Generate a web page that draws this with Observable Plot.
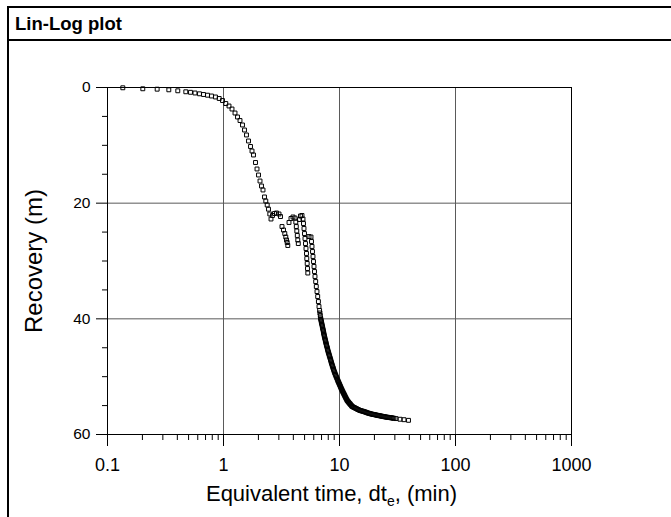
<!DOCTYPE html>
<html><head><meta charset="utf-8">
<script src="https://cdn.jsdelivr.net/npm/d3@7"></script>
<script src="https://cdn.jsdelivr.net/npm/@observablehq/plot@0.6"></script>
<style>
body{margin:0;background:#fff;font-family:"Liberation Sans",Arial,sans-serif;}
#hdr{margin:6px 0 0 7px;border-top:2px solid #000;border-left:2px solid #000;border-bottom:2px solid #000;height:31px;line-height:31px;padding-left:6px;font-weight:bold;font-size:18.5px;color:#000;}
#chart{margin-left:7px;border-left:2px solid #000;height:476px;}
#chart svg{display:block}
</style></head><body>
<div id="hdr">Lin-Log plot</div>
<div id="chart"></div>
<script>
// Equivalent time (min)
const time = [
0.1355,0.2015,0.268,0.3377,0.4036,0.4732,0.5194,0.5679,0.6210,0.6725,
0.7280,0.7882,0.8533,0.9182,0.9803,1.0467,1.1153,1.1838,1.2566,1.3205,
1.3876,1.4582,1.5171,1.5787,1.6427,1.7095,1.7610,1.8140,1.8876,1.9446,
2.0034,2.0640,2.1262,2.1904,2.2565,2.3156,2.3806,2.4429,2.5067,2.5673,
2.6449,2.7522,2.8637,3.0094,3.0999,
3.1933,3.2897,3.3755,3.4436,3.4918,3.5405,3.5832,
3.6697,3.8178,3.9719,4.1333,4.2000,4.2418,4.2840,4.3266,4.3697,4.4133,
4.5200,4.6106,4.7497,4.8447,4.8935,4.9422,4.9914,5.0411,5.0913,5.1420,5.1932,5.2244,5.2663,5.2978,5.3296,
5.4589,5.6797,5.7363,5.7934,5.8510,5.9093,5.9682,6.0276,6.0876,6.1482,6.2340,6.3096,6.3978,6.4873,6.5781,6.6574,
6.74,6.78,6.83,6.87,6.905,6.94,6.975,7.01,7.05,7.09,7.125,7.16,7.20,7.24,7.275,7.31,7.345,7.38,7.425,7.47,
7.515,7.56,7.605,7.65,7.695,7.74,7.795,7.85,7.895,7.94,8.00,8.06,8.115,8.17,8.235,8.30,8.36,8.42,8.475,8.53,
8.60,8.67,8.74,8.81,8.88,8.95,9.03,9.11,9.20,9.29,9.385,9.48,9.575,9.67,9.755,9.84,9.93,10.02,10.10,10.18,
10.27,10.36,10.455,10.55,10.655,10.76,10.87,10.98,11.085,11.19,11.305,11.42,11.535,11.65,11.79,11.93,12.085,12.24,12.39,12.54,
12.71,12.88,13.11,13.34,13.61,13.88,14.16,14.44,14.73,15.02,15.32,15.63,15.95,16.27,16.59,16.92,17.26,17.60,17.96,18.32,
18.69,19.06,19.44,19.83,20.23,20.64,21.06,21.48,21.91,22.34,22.79,23.25,23.72,24.19,24.68,25.17,25.68,26.19,26.72,27.25,
27.80,28.35,28.92,29.50,30.69,33.23,35.98,39.34
];
// Recovery (m)
const recovery = [
0.05,0.22,0.29,0.40,0.57,0.74,0.83,0.95,1.09,1.21,
1.33,1.47,1.64,1.90,2.25,2.77,3.20,3.72,4.41,5.10,
5.71,6.48,7.35,8.21,9.25,10.20,10.98,11.67,12.97,14.09,
15.13,16.17,17.03,17.72,18.93,19.63,20.32,21.04,21.87,22.74,
22.13,21.79,21.70,21.87,22.31,
24.04,24.64,25.25,25.85,26.37,26.80,27.32,
23.34,22.65,22.39,22.57,23.26,24.04,24.81,25.59,26.37,26.98,
22.83,22.22,22.13,22.74,23.52,24.38,25.25,26.11,26.98,27.84,28.70,29.57,30.43,31.30,32.08,
25.77,25.85,26.63,27.49,28.36,29.22,30.09,30.95,31.82,32.68,33.55,34.41,35.28,36.14,37.01,37.87,
38.56,38.99,39.43,39.86,40.08,40.29,40.50,40.72,40.94,41.16,41.38,41.59,41.81,42.02,42.24,42.45,42.67,42.88,43.10,43.32,
43.54,43.75,43.97,44.18,44.40,44.61,44.83,45.05,45.27,45.48,45.70,45.91,46.13,46.34,46.56,46.78,47.00,47.21,47.43,47.64,
47.86,48.07,48.29,48.50,48.72,48.94,49.16,49.37,49.59,49.80,50.02,50.23,50.45,50.67,50.84,51.01,51.19,51.36,51.53,51.70,
51.88,52.05,52.22,52.39,52.57,52.74,52.92,53.09,53.26,53.43,53.61,53.78,53.95,54.12,54.25,54.38,54.51,54.64,54.77,54.90,
55.03,55.16,55.24,55.32,55.41,55.49,55.59,55.68,55.76,55.84,55.89,55.94,55.99,56.04,56.10,56.16,56.23,56.29,56.34,56.39,
56.44,56.48,56.52,56.55,56.59,56.63,56.67,56.70,56.74,56.77,56.81,56.84,56.88,56.91,56.95,56.98,57.01,57.03,57.06,57.08,
57.11,57.13,57.17,57.20,57.25,57.36,57.44,57.55
];

const majorTimes = [0.1, 1, 10, 100, 1000];
const timeLabels = ["0.1", "1", "10", "100", "1000"];
const minorTimes = [0.2,0.3,0.4,0.5,0.6,0.7,0.8,0.9,2,3,4,5,6,7,8,9,20,30,40,50,60,70,80,90,200,300,400,500,600,700,800,900];
const gridTimes = [1, 10, 100];
const majorRecovery = [0, 20, 40, 60];
const minorRecovery = [5, 10, 15, 25, 30, 35, 45, 50, 55];
const gridRecovery = [20, 40];
const xTitleParts = ["Equivalent time, dt", "e", ", (min)"];
const xTitle = xTitleParts.join("");
const yTitle = "Recovery (m)";

const idx = d3.range(time.length);

const plot = Plot.plot({
  width: 662, height: 476,
  marginTop: 46, marginBottom: 83, marginLeft: 98, marginRight: 100,
  style: {fontFamily: '"Liberation Sans", Arial, sans-serif', color: "#000", background: "#fff", overflow: "visible"},
  x: {type: "log", domain: [0.1, 1000]},
  y: {domain: [0, 60], reverse: true},
  marks: [
    Plot.gridX(gridTimes, {stroke: "#5a5a5a", strokeOpacity: 1}),
    Plot.gridY(gridRecovery, {stroke: "#5a5a5a", strokeOpacity: 1}),
    Plot.frame({stroke: "#000"}),
    Plot.axisX(minorTimes, {tickSize: 6, tickFormat: () => "", label: null}),
    Plot.axisX(majorTimes, {tickSize: 12, tickPadding: 12, fontSize: 18, tickFormat: d => timeLabels[majorTimes.indexOf(d)], label: null}),
    Plot.axisY(minorRecovery, {tickSize: 5, tickFormat: () => "", label: null}),
    Plot.axisY(majorRecovery, {tickSize: 11, tickPadding: 6, fontSize: 15.5, label: null}),
    Plot.dot(idx, {x: i => time[i], y: i => recovery[i], symbol: "square", r: 2.2, stroke: "#000", fill: "none", strokeWidth: 1}),
    Plot.text([xTitle], {text: d => d, frameAnchor: "bottom", textAnchor: "middle", lineAnchor: "middle", dy: 59, dx: -8, fontSize: 22, fill: "#000"}),
    Plot.text([yTitle], {text: d => d, frameAnchor: "left", textAnchor: "middle", lineAnchor: "middle", rotate: -90, dx: -73, fontSize: 24, fill: "#000"})
  ]
});

d3.select(plot).selectAll("text").filter(function() { return this.textContent === xTitle; }).each(function() {
  const t = d3.select(this);
  t.text(null);
  t.append("tspan").text(xTitleParts[0]);
  t.append("tspan").attr("font-size", 14).attr("dy", 5).text(xTitleParts[1]);
  t.append("tspan").attr("dy", -5).text(xTitleParts[2]);
});

document.getElementById("chart").appendChild(plot);
</script>
</body></html>
